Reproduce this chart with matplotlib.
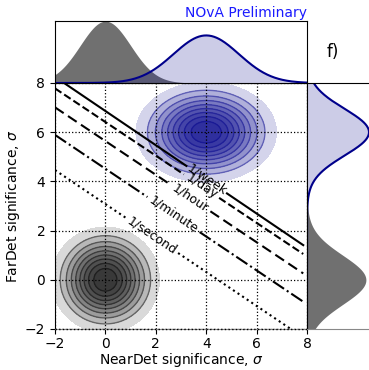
import numpy as np
import matplotlib
matplotlib.use("Agg")
import matplotlib.pyplot as plt

# ---- data ----
near_center = (0.0, 0.0)      # (x, y) of NearDet-like population
near_sigma = (1.0, 1.0)
far_center = (4.0, 6.0)       # (x, y) of FarDet-like population
far_sigma = (1.3, 0.95)
contour_levels = [0.1, 0.2, 0.3, 0.4, 0.5, 0.6, 0.7, 0.8, 0.9]

rate_labels = ["1/week", "1/day", "1/hour", "1/minute", "1/second"]
rate_x_start = [-2.0, -2.0, -2.0, -2.0, -2.0]
rate_x_end = [7.85, 7.85, 7.85, 7.85, 7.85]
rate_y_start = [8.25, 7.78, 7.01, 5.89, 4.46]
rate_y_end = [1.41, 1.05, 0.26, -0.89, -2.34]
rate_label_x = [4.02, 3.82, 3.36, 2.70, 1.84]
rate_styles = ["-", "--", (0, (5, 2.5)), "-.", ":"]

ticks = [-2, 0, 2, 4, 6, 8]
xlim = (-2, 8)
ylim = (-2, 8)

# ---- figure ----
W, H = 369, 370
fig = plt.figure(figsize=(W / 100, H / 100), dpi=100)


def rect(x0, y0, x1, y1):
    return [x0 / W, 1 - y1 / H, (x1 - x0) / W, (y1 - y0) / H]


ax = fig.add_axes(rect(55, 83, 307, 329))
axt = fig.add_axes(rect(55, 21, 307, 83))
axr = fig.add_axes(rect(307, 83, 369, 329))

ax.set_xlim(*xlim)
ax.set_ylim(*ylim)

gx = np.linspace(xlim[0], xlim[1], 400)
gy = np.linspace(ylim[0], ylim[1], 400)
X, Y = np.meshgrid(gx, gy)


def g2(cx, cy, sx, sy):
    return np.exp(-0.5 * (((X - cx) / sx) ** 2 + ((Y - cy) / sy) ** 2))


Zg = g2(*near_center, *near_sigma)
Zb = g2(*far_center, *far_sigma)
for lv in contour_levels:
    ax.contourf(X, Y, Zg, levels=[lv, 2], colors="k", alpha=0.15, zorder=0.6)
    ax.contourf(X, Y, Zb, levels=[lv, 2], colors="#00008b", alpha=0.17, zorder=0.6)
ax.contour(X, Y, Zg, levels=contour_levels[1:], colors="k", alpha=0.45,
           linewidths=1.0, zorder=0.7)
ax.contour(X, Y, Zb, levels=contour_levels[1:], colors="#00008b", alpha=0.45,
           linewidths=1.0, zorder=0.7)

fs_lab = 9
for lab, x0, x1, y0, y1, lx, st in zip(rate_labels, rate_x_start, rate_x_end,
                                       rate_y_start, rate_y_end, rate_label_x,
                                       rate_styles):
    xs = np.linspace(x0, x1, 600)
    ys = y0 + (y1 - y0) * (xs - x0) / (x1 - x0)
    ly = y0 + (y1 - y0) * (lx - x0) / (x1 - x0)
    half = (len(lab) * 6.8 + 8) / 2 * 0.83 / 25.2
    ys = np.where(np.abs(xs - lx) < half, np.nan, ys)
    ax.plot(xs, ys, color="k", lw=1.5, linestyle=st, zorder=3)
    slope = (y1 - y0) / (x1 - x0)
    ang = ax.transData.transform_angles(np.array([np.degrees(np.arctan(slope))]),
                                        np.array([[lx, ly]]))[0]
    ax.text(lx, ly, lab, rotation=ang, rotation_mode="anchor", ha="center",
            va="center", fontsize=fs_lab, zorder=4)

ax.set_xticks(ticks)
ax.set_yticks(ticks)
ax.grid(True, color="k", linestyle=":", linewidth=0.9)
ax.set_axisbelow("line")
ax.tick_params(labelsize=10)
ax.tick_params(axis="x", pad=2.5)
ax.spines["bottom"].set_color("#888888")
ax.axhline(ylim[0], color="k", linestyle=":", lw=1.0, zorder=3, clip_on=False)
ax.set_xlabel(r"NearDet significance, $\sigma$", fontsize=10, labelpad=0)
ax.set_ylabel(r"FarDet significance, $\sigma$", fontsize=10, labelpad=2)

# ---- marginals ----
def pdf(v, m, s):
    return np.exp(-0.5 * ((v - m) / s) ** 2) / (s * np.sqrt(2 * np.pi))

gray_c = "#707070"
navy = "#00008b"

axt.fill_between(gx, pdf(gx, near_center[0], near_sigma[0]), color=gray_c, lw=0)
bt = pdf(gx, far_center[0], far_sigma[0])
axt.fill_between(gx, bt, color=navy, alpha=0.2, lw=0)
axt.plot(gx, bt, color=navy, lw=1.5)
axt.set_xlim(*xlim)
axt.set_ylim(0, 0.40)
axt.set_xticks([])
axt.set_yticks([])
axt.text(1.0, 1.02, "NOvA Preliminary", color="#1a1aff", fontsize=10,
         ha="right", va="bottom", transform=axt.transAxes)

axr.fill_betweenx(gy, pdf(gy, near_center[1], near_sigma[1]), color=gray_c, lw=0)
br = pdf(gy, far_center[1], far_sigma[1])
axr.fill_betweenx(gy, br, color=navy, alpha=0.2, lw=0)
axr.plot(br, gy, color=navy, lw=1.5)
axr.set_ylim(*ylim)
axr.set_xlim(0, 0.42)
axr.set_xticks([])
axr.set_yticks([])
axr.spines["right"].set_visible(False)
axr.spines["bottom"].set_color("#888888")

fig.text(333 / W, 1 - 52 / H, "f)", fontsize=12, ha="center", va="center")

fig.savefig("out.png", dpi=100)
